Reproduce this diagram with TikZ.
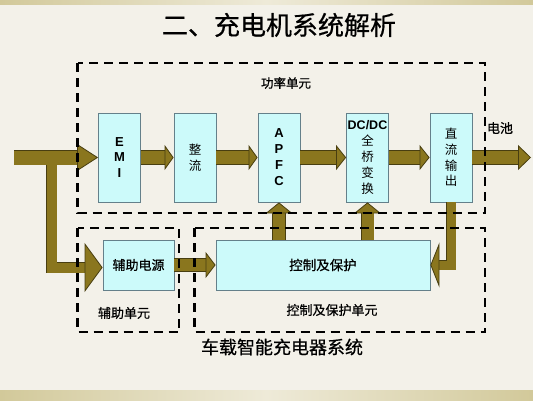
\documentclass[tikz,border=0pt]{standalone}
\usepackage{fontspec}
\setmainfont{Liberation Sans}
\newfontfamily\cjk{Noto Sans CJK SC}
\newfontfamily\cjkheavy[FakeBold=0.6]{Noto Sans CJK SC}
\usetikzlibrary{arrows.meta}
\definecolor{paper}{RGB}{243,241,233}
\definecolor{band}{RGB}{210,201,154}
\definecolor{bandhi}{RGB}{238,234,216}
\definecolor{boxfill}{RGB}{204,250,250}
\definecolor{boxline}{RGB}{100,128,138}
\definecolor{arrfill}{RGB}{138,118,30}
\definecolor{arrline}{RGB}{72,62,16}
\tikzstyle{block} = [draw=boxline, fill=boxfill, line width=0.8pt, minimum width=42pt, minimum height=89pt, inner sep=0pt, align=center]
\tikzstyle{unit} = [draw, line width=2.2pt, dash pattern=on 9pt off 6pt]
\tikzstyle{lbl} = [inner sep=0pt, font=\cjkheavy\fontsize{13}{13}\selectfont]
\tikzset{fat/.style n args={3}{draw=arrfill, line width=#1, -{Triangle[width=#2, length=#3, line width=0.8pt, fill=arrfill, color=arrline]}, preaction={draw=arrline, line width=#1+1.6pt, shorten >=0.75*#3, arrows=-}}}

\begin{document}
\begin{tikzpicture}[x=1pt, y=1pt]
			\fill [paper] (0,0) rectangle (533,400);
			\shade [left color=band, right color=band, middle color=bandhi] (0,0) rectangle (533,10);
			\shade [left color=band, right color=band, middle color=bandhi] (0,395) rectangle (533,400);
			\useasboundingbox (0,0) rectangle (533,400);

			\node [font=\cjkheavy\fontsize{26}{26}\selectfont] (title) at (279,375) {二、充电机系统解析};
			\node [lbl, font=\cjkheavy\fontsize{12.5}{12.5}\selectfont] (plabel) at (286,317) {功率单元};
			\node [lbl] (bat) at (500,272) {电池};
			\node [lbl] (alabel) at (124,87) {辅助单元};
			\node [lbl] (clabel) at (332,90) {控制及保护单元};
			\node [font=\cjkheavy\fontsize{18}{18}\selectfont] (caption) at (282,53) {车载智能充电器系统};

			\node [block, font=\bfseries\fontsize{13}{15.5}\selectfont] (emi) at (119.5,242.5) {E\\M\\I};
			\node [block, font=\cjk\fontsize{12.5}{15.5}\selectfont] (zl) at (195,242.5) {整\\流};
			\node [block, font=\bfseries\fontsize{13}{16}\selectfont] (apfc) at (279,242.5) {A\\P\\F\\C};
			\node [block, font=\cjk\fontsize{12.5}{16}\selectfont] (dcdc) at (367.5,242.5) {\fontspec{Liberation Sans}\bfseries DC/DC\\全\\桥\\变\\换};
			\node [block, font=\cjk\fontsize{12.5}{15.7}\selectfont] (out) at (451,242.5) {直\\流\\输\\出};
			\node [block, minimum width=71pt, minimum height=50pt, font=\cjkheavy\fontsize{13}{13}\selectfont] (aux) at (138.5,135) {辅助电源};
			\node [block, minimum width=214pt, minimum height=50pt, font=\cjkheavy\fontsize{13.5}{13.5}\selectfont] (ctrl) at (323,135) {控制及保护};

			\coordinate (in) at (14,242.5);
			\coordinate (split) at (51.5,235.5);
			\coordinate (load) at (531,242.5);

			\draw [fat={14pt}{27pt}{21pt}] (in) -- (emi);
			\draw [fat={13pt}{25pt}{9pt}] (emi) -- (zl);
			\draw [fat={13pt}{25pt}{9pt}] (zl) -- (apfc);
			\draw [fat={13pt}{25pt}{10pt}] (apfc) -- (dcdc);
			\draw [fat={13pt}{25pt}{10pt}] (dcdc) -- (out);
			\draw [fat={13pt}{25pt}{13pt}] (out) -- (load);
			\draw [fat={10pt}{49pt}{18pt}] (split) |- ([yshift=-2.5pt]aux.west);
			\draw [fat={12pt}{26pt}{10pt}] (aux) -- (ctrl);
			\draw [fat={12pt}{27pt}{11pt}] (apfc.south |- ctrl.north) -- (apfc);
			\draw [fat={12pt}{27pt}{11pt}] (dcdc.south |- ctrl.north) -- (dcdc);
			\draw [fat={9pt}{45pt}{9pt}] (out.south) |- (ctrl.east);

			\path [unit] (77.5,337) rectangle (485,187);
			\path [unit] (77.5,172) rectangle (179,68);
			\path [unit] (194.5,172) rectangle (485,68);
		\end{tikzpicture}
\end{document}
